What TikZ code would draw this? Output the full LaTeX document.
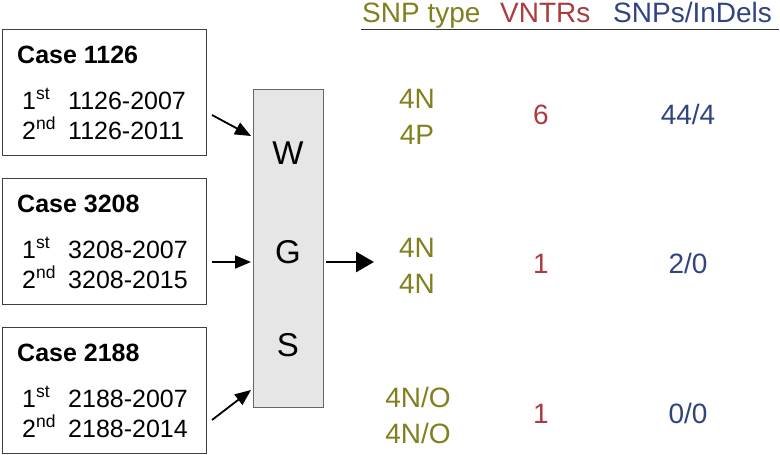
\documentclass[tikz,border=0pt]{standalone}
\usepackage{fontspec}
\setmainfont{Liberation Sans}
\usetikzlibrary{arrows.meta}
\definecolor{olv}{RGB}{130,128,30}
\definecolor{vred}{RGB}{172,58,62}
\definecolor{nblue}{RGB}{48,68,128}
\definecolor{wgsfill}{RGB}{230,230,230}
\tikzset{
  casebox/.style={draw=black!75, line width=0.9pt, minimum width=204pt, minimum height=126pt, inner sep=0pt},
  txt/.style={inner sep=0pt, anchor=base west, font=\fontsize{25}{25}\selectfont},
  ttl/.style={inner sep=0pt, anchor=base west, font=\fontsize{25}{25}\selectfont\bfseries},
  hdr/.style={inner sep=0pt, anchor=base west, font=\fontsize{28}{28}\selectfont},
  ctr/.style={inner sep=0pt, anchor=base, font=\fontsize{28}{28}\selectfont},
  big/.style={inner sep=0pt, font=\fontsize{33}{33}\selectfont},
  arr/.style={line width=1.8pt, -{Triangle[length=16pt,width=13pt]}},
  bigarr/.style={line width=2.8pt, -{Triangle[length=18pt,width=20pt]}},
}
\begin{document}
\begin{tikzpicture}[x=1pt,y=-1pt]
\useasboundingbox (0,0) rectangle (780,455);
% case boxes
\node[casebox] (b1) at (104,92) {};
\node[casebox] (b2) at (104,241) {};
\node[casebox] (b3) at (104,390) {};
\foreach \b/\n/\yr/\y in {b1/1126/2011/29, b2/3208/2015/178, b3/2188/2014/327}{
  \node[ttl] (\b t) at (17,\y+34) {Case \n};
  \node[txt] (\b a) at (22,\y+80) {1\textsuperscript{st}};
  \node[txt] (\b b) at (22,\y+110) {2\textsuperscript{nd}};
  \node[txt] (\b c) at (68,\y+80) {\n-2007};
  \node[txt] (\b d) at (68,\y+110) {\n-\yr};
}
% WGS box
\node[draw=black!60, line width=0.9pt, fill=wgsfill, minimum width=70pt, minimum height=318pt, inner sep=0pt] (wgs) at (288,248) {};
\node[big] (w) at (288,153) {W};
\node[big] (g) at (288,252) {G};
\node[big] (s) at (288,345) {S};
% arrows
\coordinate (a1s) at (212,115); \coordinate (a1e) at (251,136);
\coordinate (a2s) at (212,262); \coordinate (a2e) at (251,262);
\coordinate (a3s) at (212,420); \coordinate (a3e) at (251,390);
\coordinate (bas) at (326,262); \coordinate (bae) at (374,262);
\draw[arr] (a1s) -- (a1e);
\draw[arr] (a2s) -- (a2e);
\draw[arr] (a3s) -- (a3e);
\draw[bigarr] (bas) -- (bae);
% header
\node[hdr, text=olv] (h1) at (362,22) {SNP type};
\node[hdr, text=vred] (h2) at (500,22) {VNTRs};
\node[hdr, text=nblue] (h3) at (613,22) {SNPs/InDels};
\coordinate (ls) at (361,29.5); \coordinate (le) at (779,29.5);
\draw[line width=0.9pt, black!80] (ls) -- (le);
% data
\node[ctr, text=olv] (r1a) at (417,108) {4N};
\node[ctr, text=olv] (r1b) at (417,144) {4P};
\node[ctr, text=vred] (r1c) at (541,124) {6};
\node[ctr, text=nblue] (r1d) at (688,124) {44/4};
\node[ctr, text=olv] (r2a) at (417,257) {4N};
\node[ctr, text=olv] (r2b) at (417,293) {4N};
\node[ctr, text=vred] (r2c) at (541,273) {1};
\node[ctr, text=nblue] (r2d) at (688,273) {2/0};
\node[ctr, text=olv] (r3a) at (418,407) {4N/O};
\node[ctr, text=olv] (r3b) at (418,443) {4N/O};
\node[ctr, text=vred] (r3c) at (541,423) {1};
\node[ctr, text=nblue] (r3d) at (688,423) {0/0};
\end{tikzpicture}
\end{document}
